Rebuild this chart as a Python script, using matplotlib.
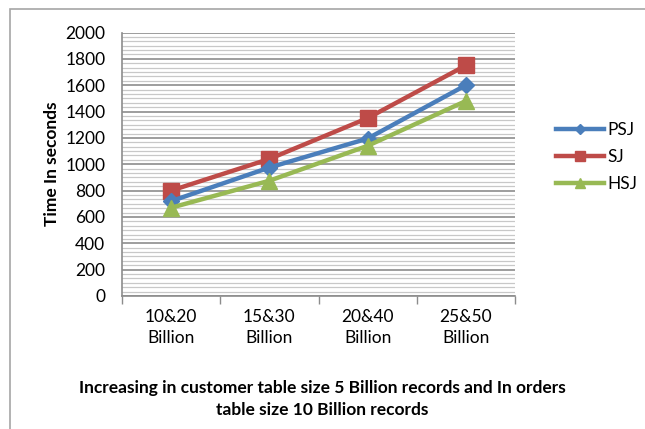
import numpy as np
import matplotlib.pyplot as plt
from matplotlib.patches import Rectangle

# Data
categories = ['10&20\nBillion', '15&30\nBillion', '20&40\nBillion', '25&50\nBillion']
psj = [720, 975, 1195, 1600]
sj = [800, 1040, 1350, 1750]
hsj = [670, 875, 1140, 1480]

plt.rcParams['font.family'] = ['Lato', 'DejaVu Sans']

W, H = 645, 429
fig = plt.figure(figsize=(W / 100, H / 100), dpi=100)

# outer chart border (light gray)
fig.patches.append(Rectangle((10 / W, -0.1), 1.1, (H - 9) / H + 0.1, transform=fig.transFigure,
                             fill=False, edgecolor='#a6a6a6', linewidth=1.2))

ax = fig.add_axes([122 / W, 1 - 296 / H, (515 - 122) / W, (296 - 32.5) / H])

x = np.arange(len(categories))
ax.plot(x, psj, color='#4a7ebb', lw=3.2, marker='D', ms=8, label='PSJ', zorder=4)
ax.plot(x, sj, color='#be4b48', lw=3.2, marker='s', ms=11, label='SJ', zorder=3)
ax.plot(x, hsj, color='#98b954', lw=3.2, marker='^', ms=12, label='HSJ', zorder=5)

ax.set_xlim(-0.5, 3.5)
ax.set_ylim(0, 2000)
ax.set_yticks(np.arange(0, 2001, 200))
ax.set_yticks(np.arange(0, 2000, 200 / 6), minor=True)
ax.grid(axis='y', which='major', color='#8c8c8c', lw=1.2)
ax.grid(axis='y', which='minor', color='#c8c8c8', lw=0.9)
ax.set_axisbelow(True)

ax.set_xticks(x)
ax.set_xticklabels(categories, fontsize=12.5, linespacing=1.45)
ax.set_xticks(np.arange(-0.5, 4, 1), minor=True)
ax.tick_params(axis='x', which='major', length=0, pad=9)
ax.tick_params(axis='x', which='minor', length=6, color='#8c8c8c', width=1)
ax.tick_params(axis='y', which='both', length=0, labelsize=12.5, pad=12)

for s in ['top', 'right']:
    ax.spines[s].set_visible(False)
ax.spines['left'].set_color('#8c8c8c')
ax.spines['bottom'].set_color('#8c8c8c')
ax.spines['left'].set_linewidth(1.2)
ax.spines['bottom'].set_linewidth(1.2)

ax.set_ylabel('Time In seconds', fontsize=12.5, fontweight='bold', labelpad=4)

fig.text(322 / W, 1 - 399 / H,
         'Increasing in customer table size 5 Billion records and In orders\ntable size 10 Billion records',
         ha='center', va='center', fontsize=12.5, fontweight='bold', linespacing=1.45)

leg = ax.legend(loc='center left', bbox_to_anchor=(540 / W, 1 - 157 / H), bbox_transform=fig.transFigure,
                frameon=False, fontsize=12.5, handlelength=2.8, handletextpad=0.2, labelspacing=0.65,
                markerscale=0.6)

fig.savefig('out.png', dpi=100)
